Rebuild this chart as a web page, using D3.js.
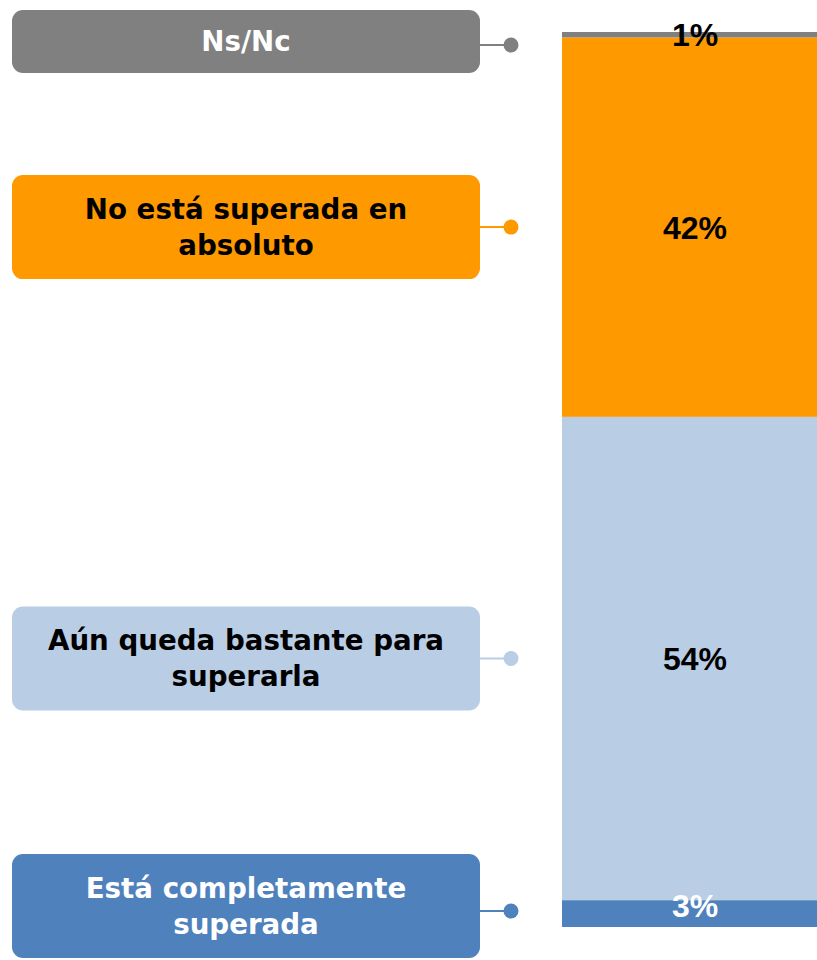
<!DOCTYPE html>
<html>
<head>
<meta charset="utf-8">
<script src="https://cdn.jsdelivr.net/npm/d3@7"></script>
<style>
  html, body { margin: 0; padding: 0; background: #fff; overflow: hidden; }
  svg { display: block; }
</style>
</head>
<body>
<svg id="chart" width="817" height="960"></svg>
<script>
// Data (bottom to top of the stacked bar)
const categories = [
  "Está completamente superada",
  "Aún queda bastante para superarla",
  "No está superada en absoluto",
  "Ns/Nc"
];
const values = [3.0, 54.0, 42.4, 0.6];
const fillColors = ["#4F81BD", "#B9CDE5", "#FF9900", "#808080"];
const boxTextColors = ["#ffffff", "#000000", "#000000", "#ffffff"];
const valueTextColors = ["#ffffff", "#000000", "#000000", "#000000"];

const W = 817, H = 960;
const svg = d3.select("#chart");

const y = d3.scaleLinear().domain([0, 100]).range([927, 32]);
const barX0 = 562, barX1 = 828;

// stacked cumulative values
const rows = categories.map((c, i) => ({ cat: c, v: values[i], i }));
const stack = d3.stack().keys(categories)([Object.fromEntries(categories.map((c, i) => [c, values[i]]))]);
rows.forEach((r, i) => { r.y0 = stack[i][0][0]; r.y1 = stack[i][0][1]; });

// bar segments
svg.append("g").selectAll("rect").data(rows).join("rect")
  .attr("x", barX0)
  .attr("width", barX1 - barX0)
  .attr("y", d => y(d.y1))
  .attr("height", d => y(d.y0) - y(d.y1))
  .attr("fill", d => fillColors[d.i]);

// value labels
svg.append("g").selectAll("text").data(rows).join("text")
  .attr("x", (barX0 + barX1) / 2)
  .attr("y", d => Math.min((y(d.y0) + y(d.y1)) / 2, 905))
  .attr("dy", "0.36em")
  .attr("text-anchor", "middle")
  .attr("font-family", "'Liberation Sans', Arial, sans-serif")
  .attr("font-weight", "bold")
  .attr("font-size", 32)
  .attr("fill", d => valueTextColors[d.i])
  .text(d => Math.round(d.v) + "%");

// category label boxes
const boxX = 12, boxW = 468, fontSize = 27.7, lineH = 36, maxTextW = 440;
const font = "'DejaVu Sans', sans-serif";

const measure = svg.append("text").attr("font-family", font).attr("font-weight", "bold")
  .attr("font-size", fontSize).attr("visibility", "hidden");
function wrap(str) {
  const words = str.split(" ");
  const lines = [];
  let cur = "";
  words.forEach(w => {
    const t = cur ? cur + " " + w : w;
    measure.text(t);
    if (measure.node().getComputedTextLength() > maxTextW && cur) {
      lines.push(cur); cur = w;
    } else cur = t;
  });
  if (cur) lines.push(cur);
  return lines;
}

rows.forEach(r => {
  r.lines = wrap(r.cat);
  r.boxH = r.lines.length === 1 ? 63 : 104;
  const segC = (y(r.y0) + y(r.y1)) / 2;
  r.cy = Math.max(10 + r.boxH / 2, Math.min(958 - r.boxH / 2, segC));
  r.dy = Math.max(45, Math.min(911, segC));
});
measure.remove();

const g = svg.append("g").selectAll("g").data(rows).join("g");

g.append("line")
  .attr("x1", boxX + boxW - 2).attr("x2", 511)
  .attr("y1", d => d.dy).attr("y2", d => d.dy)
  .attr("stroke", d => fillColors[d.i]).attr("stroke-width", 2);

g.append("circle")
  .attr("cx", 511).attr("cy", d => d.dy).attr("r", 7.5)
  .attr("fill", d => fillColors[d.i]);

g.append("rect")
  .attr("x", boxX).attr("width", boxW)
  .attr("y", d => d.cy - d.boxH / 2).attr("height", d => d.boxH)
  .attr("rx", 11).attr("ry", 11)
  .attr("fill", d => fillColors[d.i]);

g.each(function(d) {
  const t = d3.select(this).append("text")
    .attr("text-anchor", "middle")
    .attr("font-family", font)
    .attr("font-weight", "bold")
    .attr("font-size", fontSize)
    .attr("fill", boxTextColors[d.i]);
  const n = d.lines.length;
  d.lines.forEach((ln, k) => {
    t.append("tspan")
      .attr("x", boxX + boxW / 2)
      .attr("y", d.cy + (k - (n - 1) / 2) * lineH)
      .attr("dy", "0.36em")
      .text(ln);
  });
});
</script>
</body>
</html>
